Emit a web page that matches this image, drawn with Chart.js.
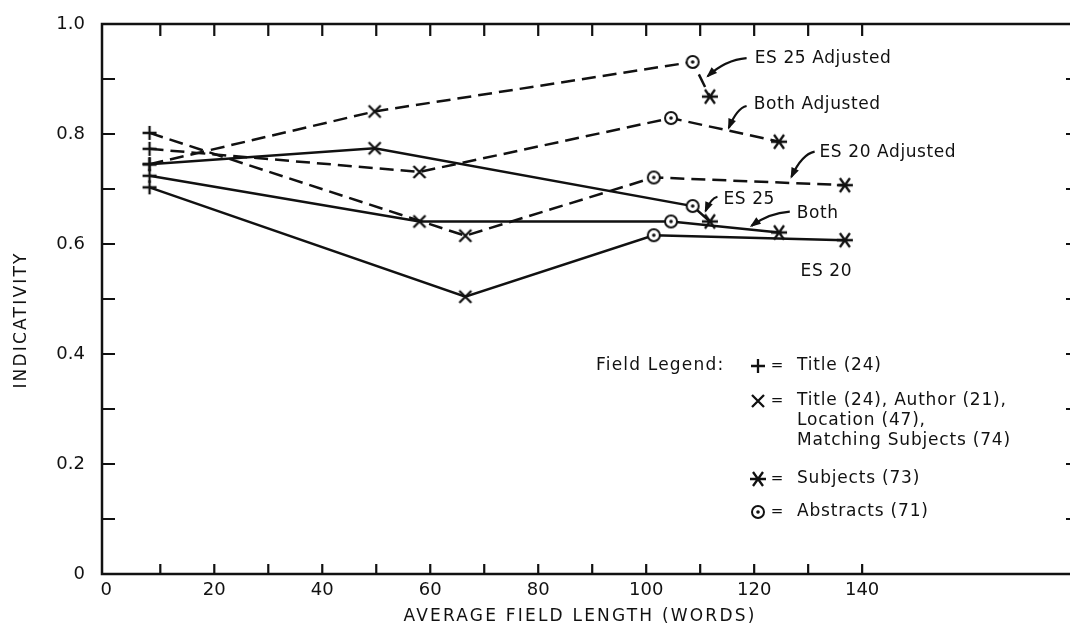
<!DOCTYPE html>
<html>
<head>
<meta charset="utf-8">
<title>Indicativity vs average field length</title>
<script src="https://cdn.jsdelivr.net/npm/chart.js@4.4.1/dist/chart.umd.min.js"></script>
<style>
  html, body { margin:0; padding:0; background:#fff; }
  #wrap { width:1070px; height:631px; }
</style>
</head>
<body>
<div id="wrap"><canvas id="chart" width="1070" height="631"></canvas></div>
<script>
// average field length (words) for: title, title+author+location+matching subj, abstracts, subjects
var xES25 = [8, 49.7, 108.6, 111.8];
var xBoth = [8, 58, 104.6, 124.6];
var xES20 = [8, 66.5, 101.4, 136.8];

// indicativity values
var yES25Adj = [0.745, 0.841, 0.931, 0.868];
var yBothAdj = [0.773, 0.731, 0.829, 0.786];
var yES20Adj = [0.802, 0.615, 0.721, 0.707];
var yES25    = [0.745, 0.774, 0.669, 0.641];
var yBoth    = [0.724, 0.641, 0.641, 0.621];
var yES20    = [0.703, 0.504, 0.616, 0.607];

// field marker for each point in a series
var fieldOrder = ['plus', 'x', 'circle', 'star'];

// axis ticks
var xTickLabels = [0, 20, 40, 60, 80, 100, 120, 140];
var xTickMarks = [10, 20, 30, 40, 50, 60, 70, 80, 90, 100, 110, 120, 130, 140];
var yTickLabels = [0, 0.2, 0.4, 0.6, 0.8, 1.0];
var yTickMarks = [0.1, 0.2, 0.3, 0.4, 0.5, 0.6, 0.7, 0.8, 0.9];

var INK = '#111';
var FONT = '"DejaVu Sans", sans-serif';

// series labels with arrows (in data units)
var notes = [
  {text:'ES 25 Adjusted', at:[120.1, 0.938], tail:[118.6, 0.938], head:[111.4, 0.905]},
  {text:'Both Adjusted',  at:[119.9, 0.853], tail:[118.6, 0.851], head:[115.3, 0.811]},
  {text:'ES 20 Adjusted', at:[132.1, 0.766], tail:[131.2, 0.768], head:[126.9, 0.722]},
  {text:'ES 25',          at:[114.3, 0.680], tail:[113.2, 0.686], head:[111.0, 0.660]},
  {text:'Both',           at:[127.9, 0.655], tail:[126.6, 0.659], head:[119.5, 0.633]},
  {text:'ES 20',          at:[128.6, 0.550]}
];

function markerCanvas(kind){
  var c = document.createElement('canvas');
  c.width = 20; c.height = 20;
  var g = c.getContext('2d');
  var m = 10;
  g.strokeStyle = INK; g.fillStyle = INK; g.lineWidth = 2.3;
  g.beginPath();
  if(kind === 'plus'){ g.moveTo(3, m); g.lineTo(17, m); g.moveTo(m, 3); g.lineTo(m, 17); }
  if(kind === 'x'){ g.moveTo(4, 4); g.lineTo(16, 16); g.moveTo(16, 4); g.lineTo(4, 16); }
  if(kind === 'star'){ g.moveTo(2, m); g.lineTo(18, m); g.moveTo(5, 3); g.lineTo(15, 17); g.moveTo(15, 3); g.lineTo(5, 17); }
  g.stroke();
  if(kind === 'circle'){
    g.fillStyle = '#fff';
    g.beginPath(); g.arc(m, m, 6, 0, 2*Math.PI); g.fill();
    g.lineWidth = 2; g.stroke();
    g.fillStyle = INK;
    g.beginPath(); g.arc(m, m, 1.8, 0, 2*Math.PI); g.fill();
  }
  return c;
}
var markers = {};
fieldOrder.forEach(function(k){ markers[k] = markerCanvas(k); });

function pts(xs, ys){ return xs.map(function(x, i){ return {x:x, y:ys[i]}; }); }

function series(label, xs, ys, dashed){
  return {
    label: label,
    data: pts(xs, ys),
    showLine: true,
    borderColor: INK,
    borderWidth: 2.5,
    borderDash: dashed ? [14, 7] : [],
    pointStyle: fieldOrder.map(function(k){ return markers[k]; }),
    pointRadius: 8,
    tension: 0
  };
}

function drawText(ctx, s, x, y, size, spacing, align){
  ctx.font = size + 'px ' + FONT;
  ctx.letterSpacing = (spacing || 0) + 'px';
  ctx.textAlign = align || 'left';
  ctx.textBaseline = 'middle';
  ctx.fillText(s, x, y);
  ctx.letterSpacing = '0px';
}

// frame with inward tick marks
var framePlugin = {
  id: 'frame',
  beforeDatasetsDraw: function(chart){
    var ctx = chart.ctx, a = chart.chartArea, x = chart.scales.x, y = chart.scales.y;
    ctx.save();
    ctx.strokeStyle = INK;
    ctx.lineWidth = 2.5;
    ctx.beginPath();
    ctx.moveTo(a.right, a.top); ctx.lineTo(a.left, a.top);
    ctx.lineTo(a.left, a.bottom); ctx.lineTo(a.right, a.bottom);
    ctx.stroke();
    ctx.lineWidth = 2.2;
    ctx.beginPath();
    xTickMarks.forEach(function(v){
      var p = x.getPixelForValue(v);
      ctx.moveTo(p, a.bottom); ctx.lineTo(p, a.bottom - 10);
      ctx.moveTo(p, a.top); ctx.lineTo(p, a.top + 12);
    });
    yTickMarks.forEach(function(v){
      var p = y.getPixelForValue(v);
      ctx.moveTo(a.left, p); ctx.lineTo(a.left + 13, p);
      ctx.moveTo(a.right, p); ctx.lineTo(a.right - 4, p);
    });
    ctx.stroke();
    ctx.restore();
  }
};

// axis titles, series notes with arrows, field legend
var notesPlugin = {
  id: 'notes',
  afterDraw: function(chart){
    var ctx = chart.ctx, x = chart.scales.x, y = chart.scales.y;
    ctx.save();
    ctx.fillStyle = INK; ctx.strokeStyle = INK;

    drawText(ctx, 'AVERAGE FIELD LENGTH (WORDS)', 580, 617, 17, 2.2, 'center');
    ctx.save();
    ctx.translate(22, 320); ctx.rotate(-Math.PI/2);
    drawText(ctx, 'INDICATIVITY', 0, 0, 17, 2.2, 'center');
    ctx.restore();

    notes.forEach(function(n){
      drawText(ctx, n.text, x.getPixelForValue(n.at[0]), y.getPixelForValue(n.at[1]), 17, 0.6);
      if(!n.tail) return;
      var tx = x.getPixelForValue(n.tail[0]), ty = y.getPixelForValue(n.tail[1]);
      var hx = x.getPixelForValue(n.head[0]), hy = y.getPixelForValue(n.head[1]);
      var cx = tx + (hx - tx) * 0.55, cy = ty + (hy - ty) * 0.1;
      ctx.lineWidth = 2.2;
      ctx.beginPath(); ctx.moveTo(tx, ty); ctx.quadraticCurveTo(cx, cy, hx, hy); ctx.stroke();
      var ang = Math.atan2(hy - cy, hx - cx);
      ctx.beginPath();
      ctx.moveTo(hx + 2*Math.cos(ang), hy + 2*Math.sin(ang));
      ctx.lineTo(hx - 9*Math.cos(ang) + 4*Math.sin(ang), hy - 9*Math.sin(ang) - 4*Math.cos(ang));
      ctx.lineTo(hx - 9*Math.cos(ang) - 4*Math.sin(ang), hy - 9*Math.sin(ang) + 4*Math.cos(ang));
      ctx.closePath(); ctx.fill();
    });

    // field legend
    var mx = 758, eqx = 777, tx0 = 797;
    drawText(ctx, 'Field Legend:', 596, 366, 17, 1.2);
    var rows = [
      ['plus', 366, ['Title (24)']],
      ['x', 401, ['Title (24), Author (21),', 'Location (47),', 'Matching Subjects (74)']],
      ['star', 479, ['Subjects (73)']],
      ['circle', 512, ['Abstracts (71)']]
    ];
    rows.forEach(function(r){
      var c = markers[r[0]];
      ctx.drawImage(c, mx - c.width/2, r[1] - c.height/2);
      drawText(ctx, '=', eqx, r[1], 15, 0, 'center');
      r[2].forEach(function(line, i){ drawText(ctx, line, tx0, r[1] + i*20, 17, 0.8); });
    });
    ctx.restore();
  }
};

var tickFont = {family: FONT, size: 18};

new Chart(document.getElementById('chart'), {
  type: 'scatter',
  data: {
    datasets: [
      series('ES 25 Adjusted', xES25, yES25Adj, true),
      series('Both Adjusted', xBoth, yBothAdj, true),
      series('ES 20 Adjusted', xES20, yES20Adj, true),
      series('ES 25', xES25, yES25, false),
      series('Both', xBoth, yBoth, false),
      series('ES 20', xES20, yES20, false)
    ]
  },
  options: {
    responsive: false,
    animation: false,
    devicePixelRatio: 1,
    layout: { autoPadding: false, padding: {top: 24, right: 0, left: 0, bottom: 0} },
    plugins: { legend: {display: false}, tooltip: {enabled: false} },
    scales: {
      x: {
        type: 'linear', min: -0.8, max: 178.5,
        afterBuildTicks: function(s){ s.ticks = xTickLabels.map(function(v){ return {value: v}; }); },
        afterFit: function(s){ s.height = 57; s.paddingLeft = 0; s.paddingRight = 0; },
        grid: {display: false, drawTicks: false},
        border: {display: false},
        ticks: {font: tickFont, color: INK, padding: 6, maxRotation: 0, autoSkip: false,
                callback: function(v){ return String(v); }}
      },
      y: {
        type: 'linear', min: 0, max: 1,
        afterBuildTicks: function(s){ s.ticks = yTickLabels.map(function(v){ return {value: v}; }); },
        afterFit: function(s){ s.width = 102; s.paddingTop = 0; s.paddingBottom = 0; },
        grid: {display: false, drawTicks: false},
        border: {display: false},
        ticks: {font: tickFont, color: INK, padding: 17, autoSkip: false,
                callback: function(v){ return v === 0 ? '0' : v.toFixed(1); }}
      }
    }
  },
  plugins: [framePlugin, notesPlugin]
});
</script>
</body>
</html>
